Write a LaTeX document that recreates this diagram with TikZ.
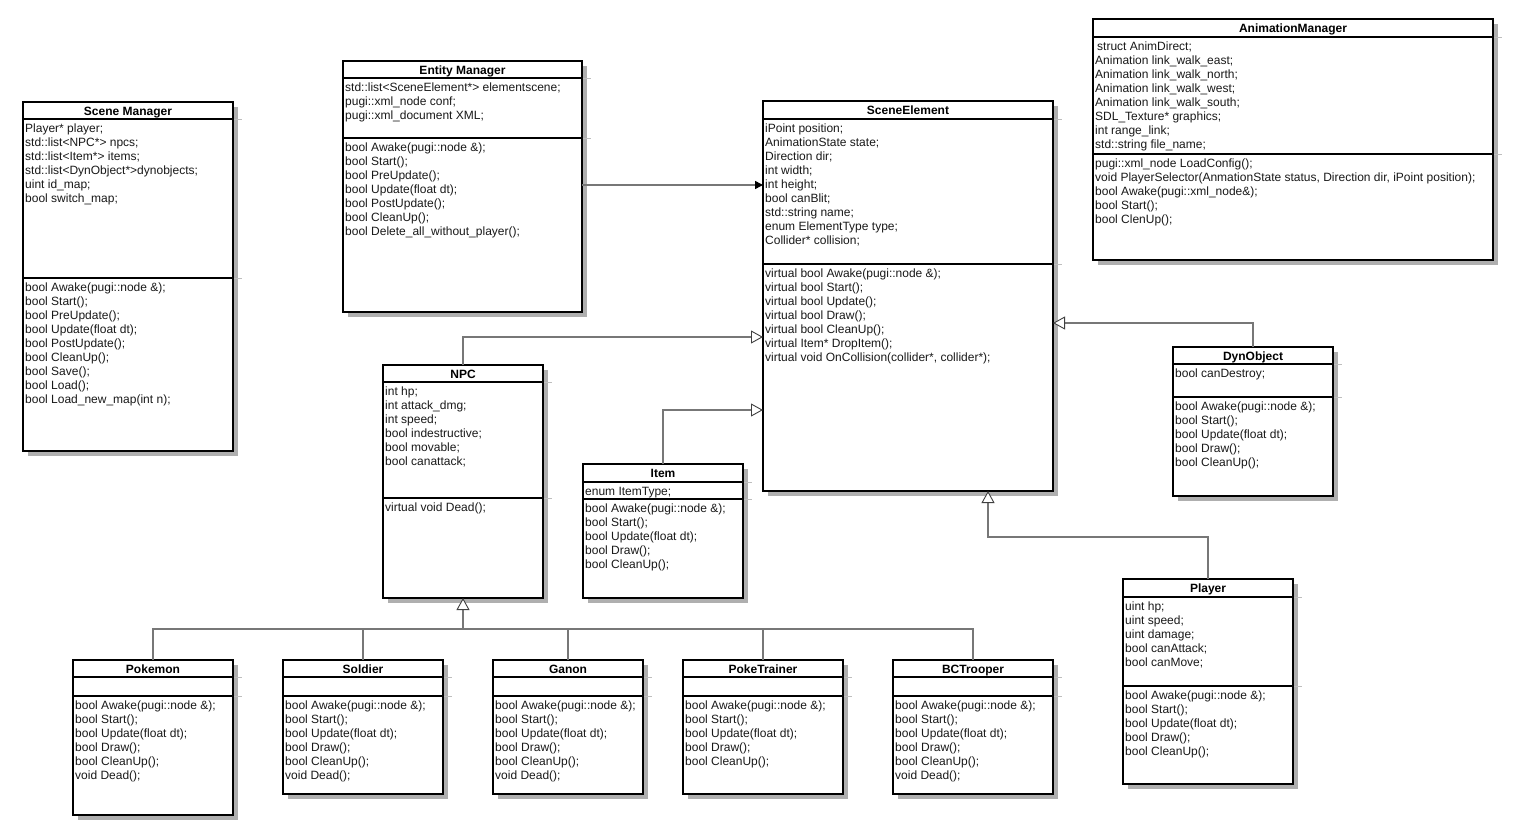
\documentclass[tikz,border=0pt]{standalone}
\usepackage{fontspec}
\setmainfont{Liberation Sans}
\usetikzlibrary{arrows.meta}
\definecolor{shadowc}{HTML}{AFAFAF}
\definecolor{stubc}{HTML}{BEBEBE}
\definecolor{connc}{HTML}{777777}
\newcommand{\umlfont}{\fontsize{12}{14}\selectfont}
\newcommand{\umlbox}[8]{%
  \fill[shadowc] (#2+5,#3+5) rectangle (#4+5,#5+5);
  \draw[stubc,line width=0.8pt] (#4,#6) -- (#4+9,#6) (#4,#7) -- (#4+9,#7);
  \node[boxstyle, minimum width=#4-#2, minimum height=#5-#3] (#1) at (#2,#3) {};
  \draw[line width=1.8pt] (#2,#6) -- (#4,#6) (#2,#7) -- (#4,#7);
  \node[font=\umlfont\bfseries, inner sep=0, anchor=base] at ({(#2+#4)/2},{(#3+#6)/2+4.8}) {#8};
}
\newcommand{\umltext}[3]{%
  \node[anchor=north west, inner sep=0, align=left, font=\umlfont, text=black!90] at (#1+2,#2+4.5) {\rule{0pt}{9pt}#3};
}
\tikzset{
  boxstyle/.style={draw, line width=1.8pt, fill=white, anchor=north west, inner sep=0, outer sep=0},
  conn/.style={draw=connc, line width=1.5pt},
  inh/.style={conn, -{Triangle[open, length=12pt, width=13pt, line width=0.9pt, color=black!75, fill=white]}},
  assoc/.style={conn, -{Triangle[length=8pt, width=8pt, color=black]}}
}
\begin{document}
\begin{tikzpicture}[x=1pt,y=-1pt]
\useasboundingbox[fill=white] (0,0) rectangle (1536,837);

% Scene Manager
\umlbox{sm}{23}{102}{233}{451}{119}{278}{Scene Manager}
\umltext{23}{119}{Player* player;\\std::list<NPC*> npcs;\\std::list<Item*> items;\\std::list<DynObject*>dynobjects;\\uint id\_map;\\bool switch\_map;}
\umltext{23}{278}{bool Awake(pugi::node \&);\\bool Start();\\bool PreUpdate();\\bool Update(float dt);\\bool PostUpdate();\\bool CleanUp();\\bool Save();\\bool Load();\\bool Load\_new\_map(int n);}

% Entity Manager
\umlbox{em}{343}{61}{582}{312}{78}{138}{Entity Manager}
\umltext{343}{78}{std::list<SceneElement*> elementscene;\\pugi::xml\_node conf;\\pugi::xml\_document XML;}
\umltext{343}{138}{bool Awake(pugi::node \&);\\bool Start();\\bool PreUpdate();\\bool Update(float dt);\\bool PostUpdate();\\bool CleanUp();\\bool Delete\_all\_without\_player();}

% SceneElement
\umlbox{se}{763}{101}{1053}{491}{119}{264}{SceneElement}
\umltext{763}{119}{iPoint position;\\AnimationState state;\\Direction dir;\\int width;\\int height;\\bool canBlit;\\std::string name;\\enum ElementType type;\\Collider* collision;}
\umltext{763}{264}{virtual bool Awake(pugi::node \&);\\virtual bool Start();\\virtual bool Update();\\virtual bool Draw();\\virtual bool CleanUp();\\virtual Item* DropItem();\\virtual void OnCollision(collider*, collider*);}

% AnimationManager
\umlbox{am}{1093}{19}{1493}{260}{37}{154}{AnimationManager}
\umltext{1093}{37}{\hspace{2pt}struct AnimDirect;\\Animation link\_walk\_east;\\Animation link\_walk\_north;\\Animation link\_walk\_west;\\Animation link\_walk\_south;\\SDL\_Texture* graphics;\\int range\_link;\\std::string file\_name;}
\umltext{1093}{154}{pugi::xml\_node LoadConfig();\\void PlayerSelector(AnmationState status, Direction dir, iPoint position);\\bool Awake(pugi::xml\_node\&);\\bool Start();\\bool ClenUp();}

% NPC
\umlbox{npc}{383}{365}{543}{598}{382}{498}{NPC}
\umltext{383}{382}{int hp;\\int attack\_dmg;\\int speed;\\bool indestructive;\\bool movable;\\bool canattack;}
\umltext{383}{498}{virtual void Dead();}

% Item
\umlbox{item}{583}{464}{743}{598}{482}{499}{Item}
\umltext{583}{482}{enum ItemType;}
\umltext{583}{499}{bool Awake(pugi::node \&);\\bool Start();\\bool Update(float dt);\\bool Draw();\\bool CleanUp();}

% DynObject
\umlbox{dyn}{1173}{347}{1333}{496}{364}{397}{DynObject}
\umltext{1173}{364}{bool canDestroy;}
\umltext{1173}{397}{bool Awake(pugi::node \&);\\bool Start();\\bool Update(float dt);\\bool Draw();\\bool CleanUp();}

% Player
\umlbox{player}{1123}{579}{1293}{784}{597}{686}{Player}
\umltext{1123}{597}{uint hp;\\uint speed;\\uint damage;\\bool canAttack;\\bool canMove;}
\umltext{1123}{686}{bool Awake(pugi::node \&);\\bool Start();\\bool Update(float dt);\\bool Draw();\\bool CleanUp();}

% Pokemon
\umlbox{pokemon}{73}{660}{233}{815}{677}{696}{Pokemon}
\umltext{73}{696}{bool Awake(pugi::node \&);\\bool Start();\\bool Update(float dt);\\bool Draw();\\bool CleanUp();\\void Dead();}

% Soldier
\umlbox{soldier}{283}{660}{443}{794}{677}{696}{Soldier}
\umltext{283}{696}{bool Awake(pugi::node \&);\\bool Start();\\bool Update(float dt);\\bool Draw();\\bool CleanUp();\\void Dead();}

% Ganon
\umlbox{ganon}{493}{660}{643}{794}{677}{696}{Ganon}
\umltext{493}{696}{bool Awake(pugi::node \&);\\bool Start();\\bool Update(float dt);\\bool Draw();\\bool CleanUp();\\void Dead();}

% PokeTrainer
\umlbox{trainer}{683}{660}{843}{794}{677}{696}{PokeTrainer}
\umltext{683}{696}{bool Awake(pugi::node \&);\\bool Start();\\bool Update(float dt);\\bool Draw();\\bool CleanUp();}

% BCTrooper
\umlbox{bct}{893}{660}{1053}{794}{677}{696}{BCTrooper}
\umltext{893}{696}{bool Awake(pugi::node \&);\\bool Start();\\bool Update(float dt);\\bool Draw();\\bool CleanUp();\\void Dead();}

% connectors
\coordinate (yE) at (0,185);
\coordinate (yN) at (0,337);
\coordinate (yI) at (0,410);
\coordinate (yD) at (0,323);
\coordinate (pj) at (988,537);
\coordinate (bus) at (463,629);

\draw[assoc] (em.east |- yE) -- (se.west |- yE);
\draw[inh] (npc.north) |- (se.west |- yN);
\draw[inh] (item.north) |- (se.west |- yI);
\draw[inh] (dyn.north) |- (se.east |- yD);
\draw[inh] (player.north) |- (pj) -- (pj |- se.south);

\draw[conn] (pokemon.north) |- (bus) -| (bct.north);
\draw[conn] (soldier.north) -- (soldier.north |- bus);
\draw[conn] (ganon.north) -- (ganon.north |- bus);
\draw[conn] (trainer.north) -- (trainer.north |- bus);
\draw[inh] (bus) -- (npc.south);
\end{tikzpicture}
\end{document}
